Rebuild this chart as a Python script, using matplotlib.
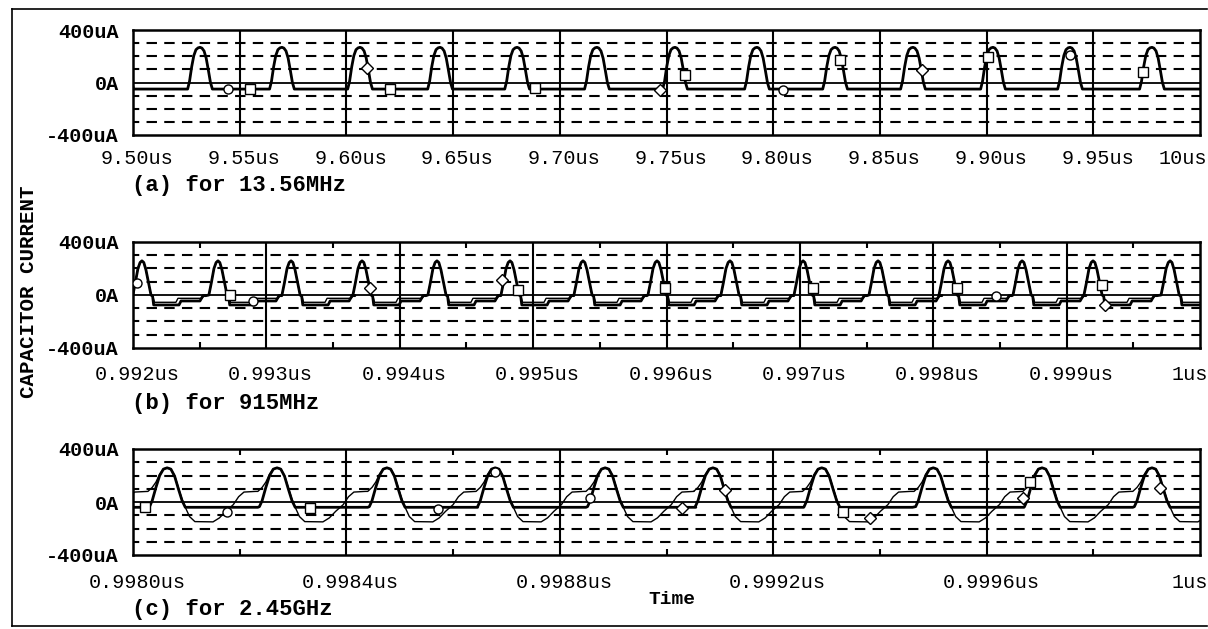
import numpy as np
import matplotlib.pyplot as plt
import matplotlib.transforms as mtrans
from matplotlib.ticker import FixedLocator

plt.rcParams['font.family'] = ['Liberation Mono', 'DejaVu Sans Mono']

# ---- (a) 13.56MHz ----
a_ticks = [9.50, 9.55, 9.60, 9.65, 9.70, 9.75, 9.80, 9.85, 9.90, 9.95, 10.00]
a_labels = ['9.50us', '9.55us', '9.60us', '9.65us', '9.70us', '9.75us',
            '9.80us', '9.85us', '9.90us', '9.95us', '10us']
a_peaks = [9.4945, 9.5314, 9.5698, 9.6064, 9.6439, 9.6800, 9.7174, 9.7540,
           9.7924, 9.8290, 9.8655, 9.9030, 9.9391, 9.9775, 10.0144]
# pulse shape around each peak (offset in ps, current in uA)
a_dt = [-5800, -4900, -3900, -2900, -1900, -900, 0, 900, 1900, 2900, 3900, 4900, 5800]
a_ua = [-50, 10, 120, 205, 250, 264, 268, 262, 240, 185, 95, 0, -50]
a_mk_t = [9.5445, 9.5548, 9.6097, 9.6204, 9.6884, 9.7470, 9.7587, 9.8046,
          9.8313, 9.8697, 9.9007, 9.9391, 9.9733]
a_mk_ua = [-50, -50, 110, -50, -40, -55, 55, -55, 170, 95, 195, 210, 80]
a_mk_sym = ['o', 's', 'D', 's', 's', 'D', 's', 'o', 's', 'D', 's', 'o', 's']

# ---- (b) 915MHz ----
b_ticks = [0.992, 0.993, 0.994, 0.995, 0.996, 0.997, 0.998, 0.999, 1.000]
b_labels = ['0.992us', '0.993us', '0.994us', '0.995us', '0.996us',
            '0.997us', '0.998us', '0.999us', '1us']
b_minor = [0.9925, 0.9935, 0.9945, 0.9955, 0.9965, 0.9975, 0.9985, 0.9995]
b_peaks = [0.991520, 0.992067, 0.992637, 0.993185, 0.993717, 0.994279, 0.994827,
           0.995374, 0.995929, 0.996476, 0.997024, 0.997586, 0.998111,
           0.998666, 0.999198, 0.999776, 1.000323]
b1_dt = [-68, -50, -30, -14, 0, 14, 30, 50, 68, 80, 88, 278, 293, 435, 458, 479]
b1_ua = [0, 90, 200, 245, 258, 245, 190, 90, 0, -10, -75, -75, -45, -45, -5, -5]
b2_dt = [-68, -50, -30, -14, 0, 14, 30, 50, 68, 80, 94, 255, 270, 450, 470, 479]
b2_ua = [0, 90, 200, 245, 258, 245, 190, 90, 0, -5, -55, -55, -25, -25, 0, 0]
b_mk_t = [0.99203, 0.992727, 0.9929, 0.993777, 0.994767, 0.994887, 0.995989,
          0.997099, 0.998178, 0.998471, 0.999266, 0.999288]
b_mk_ua = [90, 0, -45, 55, 113, 38, 53, 53, 53, -8, 75, -75]
b_mk_sym = ['o', 's', 'o', 'D', 'D', 's', 's', 's', 's', 'o', 's', 'D']

# ---- (c) 2.45GHz ----
c_ticks = [0.9980, 0.9984, 0.9988, 0.9992, 0.9996, 1.0000]
c_labels = ['0.9980us', '0.9984us', '0.9988us', '0.9992us', '0.9996us', '1us']
c_minor = [0.9982, 0.9986, 0.9990, 0.9994, 0.9998]
c_peaks = [0.997859, 0.998064, 0.998270, 0.998476, 0.998679, 0.998885,
           0.999087, 0.999291, 0.999500, 0.999704, 0.999910, 1.000115]
c1_dt = [-33, -28, -21, -14, -7, 0, 7, 14, 21, 28, 34, 170]
c1_ua = [-35, 10, 110, 200, 248, 258, 248, 195, 100, 10, -40, -40]
c2_dt = [-36, -28, -21, -14, -7, 0, 7, 14, 21, 28, 34, 42, 52, 86, 98, 110,
         124, 134, 144, 166]
c2_ua = [80, 110, 150, 210, 250, 258, 250, 200, 110, 20, -40, -110, -148,
         -150, -120, -70, -20, 40, 75, 80]
c_mk_t = [0.998022, 0.998176, 0.998332, 0.998572, 0.998679, 0.998856,
          0.999029, 0.999110, 0.999331, 0.999381, 0.999668, 0.999681, 0.999925]
c_mk_ua = [-38, -75, -45, -53, 226, 30, -45, 90, -75, -120, 30, 150, 105]
c_mk_sym = ['s', 'o', 's', 'o', 'o', 'o', 'D', 'D', 's', 'D', 'D', 's', 'D']


def build(peaks, dt, ua):
    # repeat the one-period shape at every peak time (ps -> us)
    t = np.concatenate([p + np.array(dt) * 1e-6 for p in peaks])
    y = np.tile(ua, len(peaks))
    return t, y


fig = plt.figure(figsize=(12.08, 6.29), dpi=100)
W, H = 1208, 629


def panel(top, bottom, ticks, labels, minor, caption, cap_y, lab_y):
    ax = fig.add_axes([133 / W, 1 - bottom / H, 1067 / W, (bottom - top) / H])
    ax.set_xlim(ticks[0], ticks[-1])
    ax.set_ylim(-400, 400)
    for s in ax.spines.values():
        s.set_linewidth(1.8)
    for v in (-300, -200, -100, 100, 200, 300):
        ax.axhline(v, color='black', lw=1.5, ls=(2, (5, 3.5)), zorder=1)
    ax.axhline(0, color='black', lw=1.3, zorder=1)
    for x in ticks[1:-1]:
        ax.axvline(x, color='black', lw=1.5, zorder=1)
    ax.set_xticks(ticks)
    ax.set_xticklabels([])
    ax.tick_params(axis='x', length=0)
    if minor:
        ax.xaxis.set_minor_locator(FixedLocator(minor))
        ax.tick_params(axis='x', which='minor', direction='in', length=4,
                       width=1.5, top=True)
    tr = mtrans.blended_transform_factory(ax.transData, fig.transFigure)
    span = ticks[-1] - ticks[0]
    for i, (x, lab) in enumerate(zip(ticks, labels)):
        last = i == len(ticks) - 1
        xx = x + span * (0.007 if last else 0.004)
        ax.text(xx, 1 - lab_y / H, lab, transform=tr, clip_on=False,
                ha='right' if last else 'center', va='center', fontsize=14.5)
    ax.set_yticks([-400, 0, 400])
    ax.set_yticklabels(['-400uA', '0A', '400uA'], fontsize=14.5,
                       fontweight='bold')
    ax.tick_params(axis='y', length=0, pad=10)
    fig.text(132 / W, 1 - cap_y / H, caption, ha='left', va='center',
             fontsize=16, fontweight='bold')
    return ax


ax_a = panel(30, 135, a_ticks, a_labels, None, '(a) for 13.56MHz', 186, 158)
ax_b = panel(242, 348, b_ticks, b_labels, b_minor, '(b) for 915MHz', 404, 375)
ax_c = panel(449, 555, c_ticks, c_labels, c_minor, '(c) for 2.45GHz', 609, 583)

mk_kw = dict(ms=6.5, mfc='white', mec='black', mew=1.0, ls='none', zorder=4)

t, y = build(a_peaks, a_dt, a_ua)
ax_a.plot(t, y, color='black', lw=2.0, zorder=3)
for mt, mu, ms in zip(a_mk_t, a_mk_ua, a_mk_sym):
    ax_a.plot(mt, mu, marker=ms, **mk_kw)

t, y = build(b_peaks, b1_dt, b1_ua)
ax_b.plot(t, y, color='black', lw=2.0, zorder=3)
t, y = build(b_peaks, b2_dt, b2_ua)
ax_b.plot(t, y, color='black', lw=1.0, zorder=3)
for mt, mu, ms in zip(b_mk_t, b_mk_ua, b_mk_sym):
    ax_b.plot(mt, mu, marker=ms, **mk_kw)

t, y = build(c_peaks, c1_dt, c1_ua)
ax_c.plot(t, y, color='black', lw=2.0, zorder=3)
t, y = build(c_peaks, c2_dt, c2_ua)
ax_c.plot(t, y, color='black', lw=1.0, zorder=3)
for mt, mu, ms in zip(c_mk_t, c_mk_ua, c_mk_sym):
    ax_c.plot(mt, mu, marker=ms, **mk_kw)

fig.text(29 / W, 1 - 292 / H, 'CAPACITOR CURRENT', rotation=90, ha='center',
         va='center', fontsize=15, fontweight='bold')
fig.text(672 / W, 1 - 600 / H, 'Time', ha='center', va='center',
         fontsize=14, fontweight='bold')

# outer frame of the scanned figure
fig.add_artist(plt.Line2D([12 / W, 12 / W], [1 - 9 / H, 1 - 626 / H], color='black', lw=1.2))
fig.add_artist(plt.Line2D([12 / W, 1 - 1 / W], [1 - 9 / H, 1 - 9 / H], color='black', lw=1.2))
fig.add_artist(plt.Line2D([12 / W, 1 - 1 / W], [1 - 626 / H, 1 - 626 / H], color='black', lw=1.2))

fig.savefig('out.png', dpi=100)
